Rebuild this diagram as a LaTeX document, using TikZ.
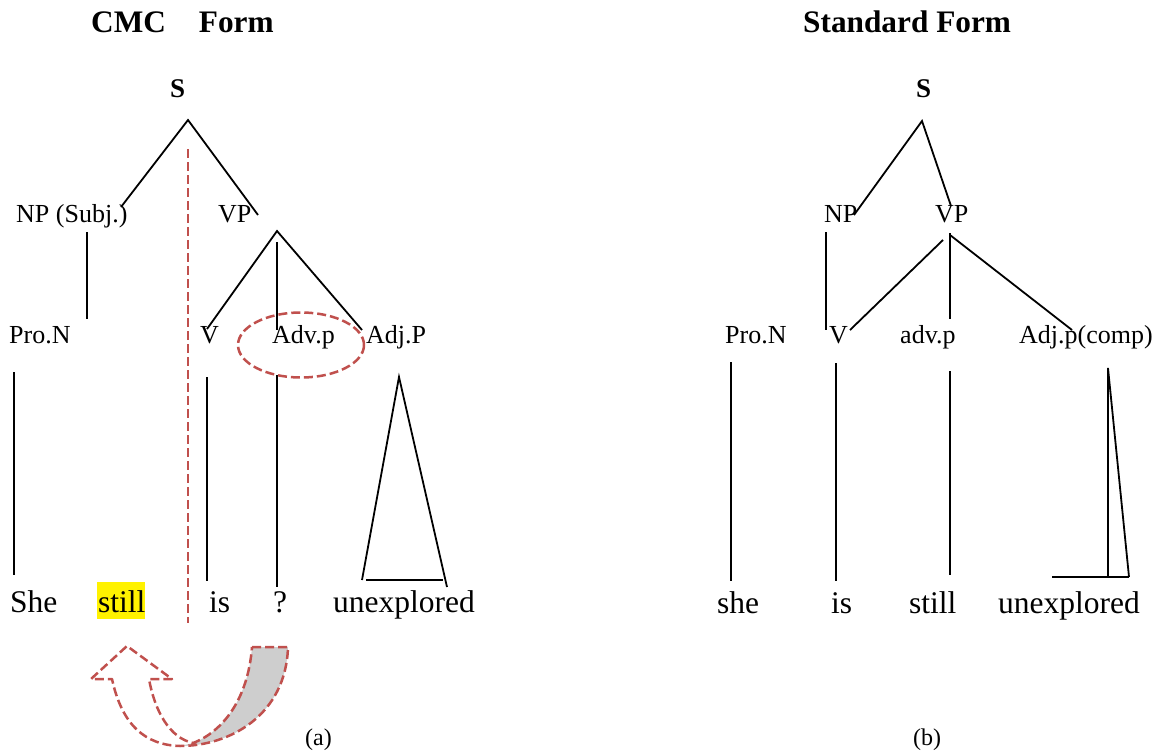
\documentclass[tikz,border=0pt]{standalone}
\usepackage{fontspec}
\setmainfont{Liberation Serif}
\definecolor{dred}{RGB}{192,80,77}
\definecolor{lgray}{RGB}{206,206,206}
\begin{document}
\begin{tikzpicture}[x=1pt,y=-1pt,
  lbl/.style={font=\fontsize{26}{30}\selectfont, anchor=base west, inner sep=0},
  word/.style={font=\fontsize{31.5}{36}\selectfont, anchor=base west, inner sep=0},
  ttl/.style={font=\bfseries\fontsize{31.3}{36}\selectfont, anchor=base west, inner sep=0},
  root/.style={font=\bfseries\fontsize{27}{30}\selectfont, anchor=base west, inner sep=0},
  sublabel/.style={font=\fontsize{24}{28}\selectfont, anchor=base west, inner sep=0},
  branch/.style={line width=1.8pt},
  redd/.style={draw=dred, line width=2.5pt, dash pattern=on 9pt off 4pt}]
\useasboundingbox (0,0) rectangle (1157,752);

% ---------- titles ----------
\node[ttl] (t1) at (91,33) {CMC\hspace{33pt}Form};
\node[ttl] (t2) at (803,33) {Standard Form};

% ---------- left tree (a) ----------
\node[root] (Sa) at (170,97) {S};
\node[lbl] (NPa) at (16,222) {NP (Subj.)};
\node[lbl] (VPa) at (218,222) {VP};
\node[lbl] (PNa) at (9,343) {Pro.N};
\node[lbl] (Va) at (200,343) {V};
\node[lbl] (ADVa) at (272,343) {Adv.p};
\node[lbl] (ADJa) at (366,343) {Adj.P};
\fill[yellow] (97,582) rectangle (145,619);
\node[word] (She) at (10,612) {She};
\node[word] (stillA) at (98,612) {still};
\node[word] (isA) at (209,612) {is};
\node[word] (qA) at (273,612) {?};
\node[word] (unA) at (333,612) {unexplored};
\node[sublabel] (capA) at (305,745) {(a)};

\coordinate (aS) at (188,120);
\coordinate (aNPt) at (121,207);
\coordinate (aVPt) at (258,215);
\coordinate (aNPb1) at (87,232);
\coordinate (aNPb2) at (87,319);
\coordinate (aVP) at (277,231);
\coordinate (aVPc) at (277,242);
\coordinate (aV) at (207,329);
\coordinate (aADV) at (277,330);
\coordinate (aADJ) at (362,330);
\coordinate (aPN1) at (14,372);
\coordinate (aPN2) at (14,575);
\coordinate (aV1) at (207,377);
\coordinate (aV2) at (207,581);
\coordinate (aQ1) at (277,375);
\coordinate (aQ2) at (277,587);
\coordinate (aTri) at (399,377);
\coordinate (aTriL) at (362,580);
\coordinate (aTriR) at (447,587);
\coordinate (aBase1) at (366,580);
\coordinate (aBase2) at (443,580);

\draw[branch] (aNPt) -- (aS) -- (aVPt);
\draw[branch] (aNPb1) -- (aNPb2);
\draw[branch] (aV) -- (aVP) -- (aADJ);
\draw[branch] (aVPc) -- (aADV);
\draw[branch] (aPN1) -- (aPN2);
\draw[branch] (aV1) -- (aV2);
\draw[branch] (aQ1) -- (aQ2);
\draw[branch] (aTriL) -- (aTri) -- (aTriR);
\draw[branch] (aBase1) -- (aBase2);

% red dashed divider and ellipse
\coordinate (div1) at (188,149);
\coordinate (div2) at (188,623);
\draw[redd] (div1) -- (div2);
\draw[redd] (301,345) ellipse [x radius=63, y radius=32.5];

% curved arrow
\fill[lgray] (193,743) .. controls (222,732) and (248,700) .. (252,647)
  -- (288,647) .. controls (286,715) and (230,746) .. (180,746) -- cycle;
\draw[redd, line join=round] (252,647) -- (288,647)
  .. controls (286,715) and (230,746) .. (180,746)
  .. controls (145,745) and (122,725) .. (112,679)
  -- (91,679) -- (127,646) -- (172,679) -- (149,679)
  .. controls (155,712) and (170,738) .. (193,743)
  .. controls (222,732) and (248,700) .. (252,647);

% ---------- right tree (b) ----------
\node[root] (Sb) at (916,97) {S};
\node[lbl] (NPb) at (824,222) {NP};
\node[lbl] (VPb) at (935,222) {VP};
\node[lbl] (PNb) at (725,343) {Pro.N};
\node[lbl] (Vb) at (829,343) {V};
\node[lbl] (ADVb) at (900,343) {adv.p};
\node[lbl] (ADJb) at (1019,343) {Adj.p(comp)};
\node[word] (sheB) at (717,613) {she};
\node[word] (isB) at (831,613) {is};
\node[word] (stillB) at (909,613) {still};
\node[word] (unB) at (998,613) {unexplored};
\node[sublabel] (capB) at (913,745) {(b)};

\coordinate (bS) at (922,121);
\coordinate (bNPt) at (854,215);
\coordinate (bVPt) at (951,206);
\coordinate (bNP1) at (826,232);
\coordinate (bNP2) at (826,330);
\coordinate (bVPl) at (943,240);
\coordinate (bV) at (850,330);
\coordinate (bVPc) at (950,233);
\coordinate (bADV) at (950,319);
\coordinate (bVPr) at (950,235);
\coordinate (bADJ) at (1072,330);
\coordinate (bPN1) at (731,362);
\coordinate (bPN2) at (731,581);
\coordinate (bV1) at (836,363);
\coordinate (bV2) at (836,581);
\coordinate (bST1) at (950,371);
\coordinate (bST2) at (950,575);
\coordinate (bT) at (1108,368);
\coordinate (bTb) at (1108,577);
\coordinate (bTr) at (1129,577);
\coordinate (bTl) at (1052,577);

\draw[branch] (bNPt) -- (bS) -- (bVPt);
\draw[branch] (bNP1) -- (bNP2);
\draw[branch] (bVPl) -- (bV);
\draw[branch] (bVPc) -- (bADV);
\draw[branch] (bVPr) -- (bADJ);
\draw[branch] (bPN1) -- (bPN2);
\draw[branch] (bV1) -- (bV2);
\draw[branch] (bST1) -- (bST2);
\draw[branch] (bTb) -- (bT) -- (bTr);
\draw[branch] (bTl) -- (bTr);
\end{tikzpicture}
\end{document}
